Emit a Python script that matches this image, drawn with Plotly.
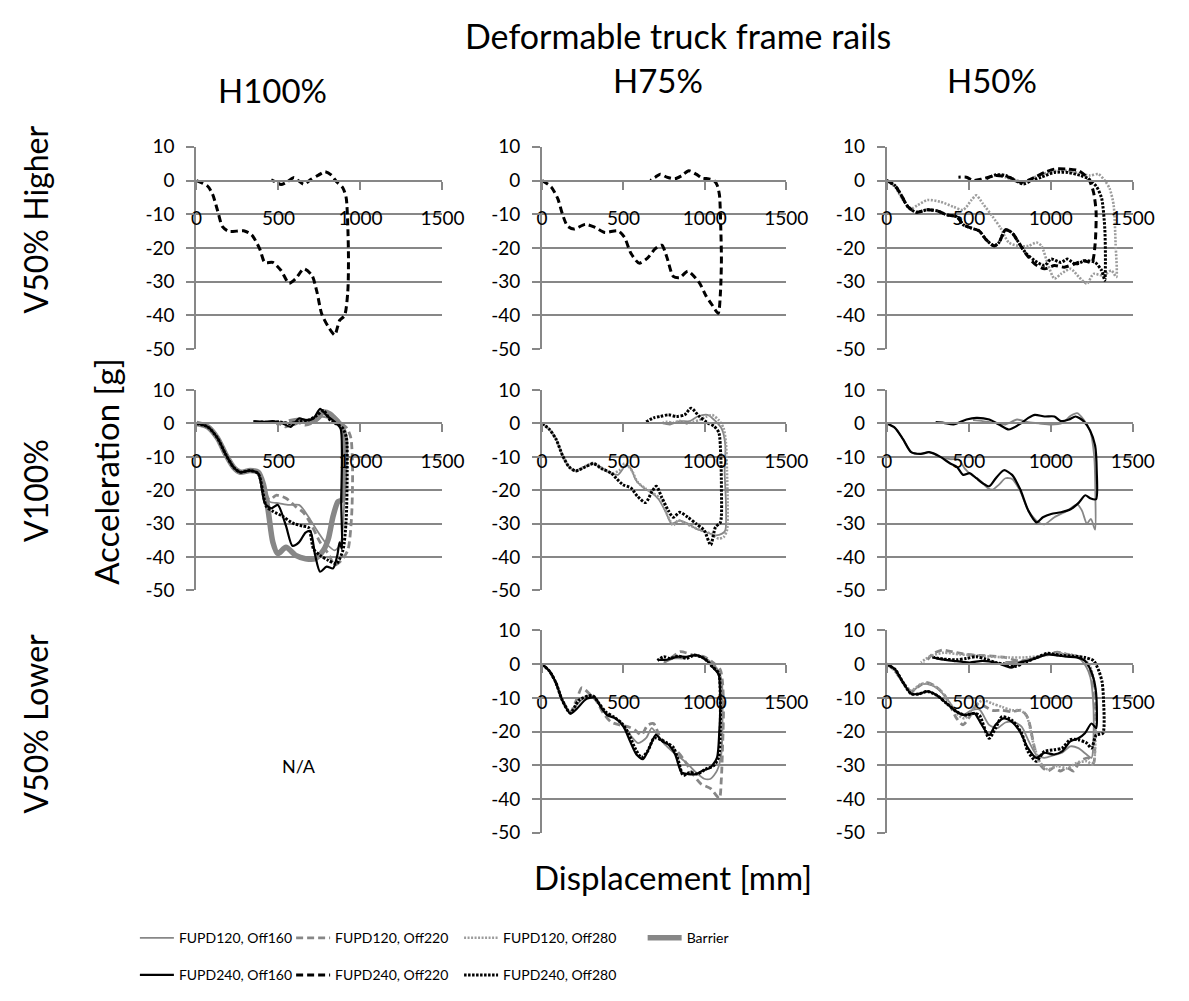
import plotly.graph_objects as go

W, H = 1189, 1001
FONT = "Lato"

# ---------------- data (displacement [mm], acceleration [g]) ----------------
# Row "V50% Higher"
hi_h100_b220_x = [0, 69, 99, 129, 159, 198, 288, 337, 387, 417, 466, 516, 565, 605, 655, 704, 734, 764, 804, 843, 873, 903, 923, 927, 923, 913, 893, 853, 823, 784, 744, 694, 655, 615, 595, 556, 516, 486, 456]
hi_h100_b220_y = [0, -1.7, -4.1, -8.9, -13.7, -15.1, -14.9, -16.1, -20.4, -24.3, -24.3, -26.7, -30.5, -29.1, -26.2, -28.1, -32.9, -39.6, -43.4, -45.8, -41.5, -40.1, -32.9, -23.3, -13.7, -5.1, -2.2, -0.3, 1.6, 2.6, 1.6, 0.2, -1.1, 0.2, 0.9, -0.3, -1.2, -0.5, 0.2]

hi_h75_b220_x = [0, 56, 96, 126, 156, 196, 266, 326, 386, 466, 506, 546, 596, 646, 696, 736, 766, 806, 846, 896, 966, 1006, 1046, 1082, 1096, 1102, 1098, 1090, 1076, 1056, 1026, 986, 946, 902, 856, 816, 766, 726, 696, 666]
hi_h75_b220_y = [0, -1.9, -5.3, -10.1, -13.5, -14.4, -13.0, -13.9, -15.4, -14.9, -16.8, -21.6, -24.5, -23.1, -20.2, -19.2, -22.6, -28.4, -28.8, -26.9, -30.3, -34.1, -37.0, -39.4, -33.2, -23.6, -13.9, -4.3, -1.4, 0, 0.5, 0.7, 1.9, 2.9, 1.4, 0.5, 1.0, 1.9, 1.0, 0]

hi_h50_g280_x = [0, 50, 99, 149, 188, 248, 327, 407, 466, 516, 546, 585, 645, 694, 744, 804, 863, 913, 943, 982, 1022, 1062, 1121, 1171, 1220, 1260, 1319, 1369, 1399, 1395, 1383, 1359, 1329, 1290, 1240, 1171, 1101, 1042, 982, 923, 863, 823, 774, 724, 665, 605]
hi_h50_g280_y = [0, -1.9, -5.8, -8.3, -7.3, -5.8, -6.3, -7.8, -8.7, -5.8, -4.4, -6.8, -10.7, -14.1, -18.4, -19.4, -19.4, -18.4, -19.4, -24.8, -29.1, -27.7, -26.2, -28.6, -30.6, -27.7, -28.2, -26.7, -28.6, -18.9, -7.3, -2.4, 0, 1.9, 1.5, 2.2, 2.9, 2.9, 2.4, 1.5, 0, -0.5, 0, 1.0, 1.5, 0.5]

hi_h50_b220_x = [0, 50, 89, 129, 179, 248, 308, 367, 427, 466, 516, 565, 605, 655, 684, 724, 764, 804, 843, 903, 962, 1022, 1082, 1141, 1200, 1250, 1270, 1276, 1260, 1230, 1171, 1101, 1022, 962, 903, 823, 744, 665, 585, 526, 486, 437]
hi_h50_b220_y = [0, -1.5, -4.4, -7.8, -9.4, -8.7, -9.0, -10.2, -10.7, -13.1, -14.1, -15.0, -17.5, -19.4, -18.4, -14.6, -15.5, -18.4, -21.4, -24.8, -26.2, -25.2, -25.7, -24.8, -23.8, -24.3, -18.9, -9.2, -3.4, 0.5, 2.9, 3.4, 3.4, 2.4, 1.0, -0.5, 1.0, 1.5, 0.5, 0, 1.0, 1.0]

hi_h50_b280_x = [0, 50, 89, 129, 179, 248, 308, 367, 427, 466, 516, 565, 605, 655, 684, 724, 764, 804, 853, 903, 962, 1002, 1062, 1101, 1151, 1210, 1270, 1310, 1329, 1333, 1329, 1310, 1280, 1230, 1181, 1101, 1022, 943, 883, 833, 784, 724, 665, 605]
hi_h50_b280_y = [0, -1.5, -4.4, -7.8, -9.4, -8.7, -9.0, -10.2, -10.7, -13.1, -14.1, -15.0, -17.5, -19.4, -18.4, -14.6, -15.5, -18.4, -21.8, -23.8, -25.2, -23.3, -24.3, -23.3, -24.8, -23.8, -24.3, -26.7, -29.6, -23.8, -14.1, -5.3, -1.9, 0.5, 1.5, 2.4, 2.4, 1.0, 0, -1.0, 0, 1.5, 1.7, 0.5]

# Row "V100%"
mid_h100_bar_x = [0, 69, 129, 179, 228, 268, 327, 377, 407, 437, 466, 496, 546, 605, 665, 724, 774, 804, 833, 863, 887, 903, 907, 887, 853, 813, 774, 734, 684, 625, 565]
mid_h100_bar_y = [0, -1.0, -4.4, -9.3, -13.2, -14.6, -14.1, -14.6, -18.0, -25.9, -35.6, -39.0, -37.1, -39.5, -40.5, -40.5, -38.0, -34.6, -27.8, -23.4, -22.9, -14.1, -4.4, -1.0, 1.0, 2.9, 3.4, 1.5, 0.5, 1.0, 0.5]

mid_h100_g160_x = [0, 69, 129, 179, 228, 268, 327, 377, 407, 446, 506, 565, 625, 655, 694, 744, 794, 843, 879, 899, 907, 899, 863, 813, 764, 714, 655, 595, 536, 486]
mid_h100_g160_y = [0, -1.0, -4.4, -9.3, -13.2, -14.6, -14.1, -14.6, -19.0, -23.4, -23.9, -24.4, -24.4, -25.9, -28.8, -32.7, -36.1, -38.0, -36.1, -25.9, -12.2, -2.4, 0, 1.5, 2.0, 0.5, 1.0, -0.5, 0.5, -0.3]

mid_h100_g220_x = [0, 69, 129, 179, 228, 268, 327, 377, 407, 446, 486, 546, 605, 655, 704, 754, 804, 843, 883, 923, 946, 952, 942, 919, 873, 833, 784, 724, 665, 605, 546, 506]
mid_h100_g220_y = [0, -1.0, -4.4, -9.3, -13.2, -14.6, -14.1, -14.6, -19.0, -22.9, -21.5, -22.4, -24.9, -26.8, -30.7, -35.6, -39.0, -42.4, -41.0, -38.0, -27.8, -14.1, -4.4, -1.5, 0.5, 2.4, 2.9, 0.5, -0.5, 0.5, -1.0, 0]

mid_h100_b160_x = [0, 69, 129, 179, 228, 268, 327, 377, 417, 456, 496, 546, 585, 625, 665, 694, 724, 754, 794, 833, 859, 873, 887, 883, 887, 879, 843, 794, 754, 714, 665, 625, 575, 526, 466, 407, 347]
mid_h100_b160_y = [0, -1.0, -4.4, -9.3, -13.2, -14.6, -14.1, -15.0, -23.9, -25.4, -24.4, -30.7, -36.6, -35.6, -32.7, -32.2, -39.5, -44.4, -42.9, -43.4, -39.5, -35.6, -37.6, -23.9, -9.3, -1.5, 0.5, 2.4, 4.4, 1.5, 1.0, 1.5, -1.0, 0, 0.7, 0.5, 0.7]

mid_h100_b280_x = [0, 69, 129, 179, 228, 268, 327, 377, 427, 466, 526, 585, 645, 684, 714, 754, 804, 853, 893, 913, 919, 915, 893, 863, 823, 774, 734, 684, 625, 565, 506, 446, 387]
mid_h100_b280_y = [0, -1.0, -4.4, -9.3, -13.2, -14.6, -14.1, -15.0, -24.9, -26.3, -27.8, -29.8, -30.7, -31.2, -37.6, -39.5, -41.0, -42.0, -38.0, -28.8, -14.1, -4.4, -1.5, -0.3, 0.5, 3.9, 2.4, 1.0, 0.5, 0, 0.5, 0.3, 0.5]

mid_h75_g160_x = [0, 46, 86, 126, 166, 206, 266, 316, 366, 426, 466, 516, 546, 576, 626, 676, 716, 756, 796, 846, 896, 946, 1006, 1066, 1106, 1126, 1130, 1122, 1126, 1106, 1066, 1016, 956, 906, 846, 786, 736]
mid_h75_g160_y = [0, -1.8, -4.7, -9.6, -13.0, -14.2, -13.0, -12.0, -13.5, -14.9, -15.4, -12.5, -13.5, -16.9, -19.3, -20.8, -22.7, -26.1, -30.0, -29.1, -30.0, -31.5, -32.5, -33.5, -33.0, -32.0, -24.2, -14.4, -6.6, -1.8, 0.7, 2.6, 2.1, 0.7, 0.7, -0.3, 0.2]

mid_h75_g280_x = [0, 46, 86, 126, 166, 206, 266, 316, 366, 426, 476, 506, 526, 556, 586, 636, 686, 726, 766, 806, 836, 876, 926, 976, 1036, 1086, 1116, 1136, 1140, 1136, 1130, 1116, 1086, 1046, 1006, 966, 926, 886, 846, 806, 766, 736]
mid_h75_g280_y = [0, -1.8, -4.7, -9.6, -13.0, -14.2, -12.8, -11.8, -13.2, -15.0, -14.0, -12.0, -12.5, -14.5, -17.5, -19.5, -21.0, -22.5, -27.0, -30.5, -29.0, -29.8, -31.0, -32.0, -33.0, -34.5, -34.0, -32.0, -24.0, -14.0, -6.0, -1.5, 1.0, 2.5, 2.0, 1.0, 0.5, 0.0, 0.8, 0.2, 0.5, 0.0]

mid_h75_b280_x = [0, 46, 86, 126, 166, 206, 266, 316, 366, 426, 446, 496, 546, 586, 636, 676, 702, 736, 776, 806, 846, 896, 946, 996, 1036, 1066, 1096, 1102, 1098, 1086, 1056, 1016, 966, 916, 876, 826, 776, 726, 686, 636]
mid_h75_b280_y = [0, -1.8, -4.7, -9.6, -13.0, -14.2, -13.0, -12.0, -13.5, -14.9, -15.9, -18.3, -19.3, -21.8, -23.7, -20.3, -18.8, -22.2, -26.1, -28.1, -26.6, -28.1, -30.0, -32.0, -36.4, -31.0, -29.6, -19.3, -9.6, -2.7, -0.8, 0.2, 2.1, 4.6, 2.6, 2.1, 2.6, 2.1, 1.7, 0.4]

mid_h50_g160_x = [0, 50, 99, 149, 208, 258, 327, 387, 437, 476, 516, 565, 615, 645, 684, 724, 764, 814, 863, 923, 962, 1022, 1101, 1161, 1190, 1220, 1244, 1270, 1272, 1264, 1240, 1200, 1161, 1121, 1071, 1002, 932, 863, 794, 724, 655, 585, 526]
mid_h50_g160_y = [0, -1.3, -4.7, -8.6, -9.1, -8.6, -10.0, -10.7, -10.7, -13.5, -15.4, -16.9, -19.3, -19.8, -18.3, -16.4, -16.6, -20.3, -26.1, -29.6, -30.2, -28.1, -26.1, -24.2, -26.1, -30.0, -28.6, -31.8, -22.2, -9.6, -2.2, 1.2, 3.1, 2.3, 0.2, -0.3, 0, 0.4, 1.2, -0.3, 0.2, 0.7, 1.0]

mid_h50_b160_x = [0, 50, 99, 149, 208, 258, 327, 387, 427, 466, 506, 546, 585, 625, 665, 714, 764, 814, 863, 913, 952, 1002, 1062, 1121, 1171, 1210, 1240, 1276, 1280, 1270, 1240, 1200, 1151, 1111, 1062, 1022, 962, 903, 863, 823, 744, 684, 625, 546, 486, 407, 347, 298]
mid_h50_b160_y = [0, -1.3, -4.7, -8.6, -9.1, -8.6, -10.0, -12.0, -13.0, -15.4, -14.9, -16.4, -17.9, -18.8, -16.4, -14.0, -15.4, -19.8, -26.1, -29.6, -28.1, -27.1, -26.6, -25.7, -23.7, -21.5, -22.4, -22.7, -14.4, -6.6, -2.2, 0.7, 2.1, 1.2, 0.7, 2.1, 2.1, 2.6, 1.7, 0.2, -1.8, -0.3, 1.2, 1.7, 1.2, -0.3, 0.2, 0.4]

# Row "V50% Lower"
lo_h75_g160_x = [0, 46, 85, 125, 174, 214, 273, 323, 362, 402, 451, 491, 541, 590, 640, 673, 709, 748, 798, 848, 897, 946, 996, 1036, 1075, 1101, 1109, 1105, 1085, 1045, 986, 927, 867, 808, 748]
lo_h75_g160_y = [0, -2.1, -5.5, -10.8, -14.2, -12.0, -9.5, -9.5, -12.5, -14.8, -16.0, -17.6, -21.0, -23.4, -21.9, -19.0, -21.0, -23.4, -25.8, -27.7, -29.7, -32.1, -34.0, -34.0, -31.6, -26.8, -15.2, -5.5, -2.1, 0.3, 2.2, 2.7, 1.7, 1.7, 0.3]

lo_h75_g220_x = [0, 46, 85, 125, 174, 214, 244, 283, 333, 372, 422, 481, 531, 570, 610, 649, 685, 719, 768, 828, 877, 927, 976, 1036, 1089, 1101, 1109, 1115, 1109, 1095, 1055, 996, 927, 848, 788, 748]
lo_h75_g220_y = [0, -2.1, -5.5, -10.8, -14.2, -10.3, -7.0, -8.4, -10.8, -14.2, -17.1, -18.1, -18.6, -19.5, -21.0, -18.1, -17.6, -21.0, -24.3, -25.8, -28.7, -32.6, -35.5, -36.9, -39.8, -34.5, -24.8, -13.2, -5.5, -1.6, 0.3, 2.2, 2.7, 3.7, 1.7, 0.8]

lo_h75_b160_x = [0, 46, 85, 125, 174, 214, 273, 323, 362, 402, 451, 501, 541, 580, 620, 659, 699, 739, 778, 818, 857, 897, 946, 986, 1036, 1075, 1089, 1095, 1085, 1055, 1006, 946, 887, 828, 768, 719]
lo_h75_b160_y = [0, -2.1, -5.5, -10.8, -14.7, -13.2, -10.3, -9.9, -12.8, -15.2, -16.1, -18.6, -22.9, -26.8, -28.2, -24.8, -21.0, -22.9, -23.9, -26.8, -32.1, -32.6, -32.6, -31.6, -30.6, -27.7, -20.0, -10.3, -3.1, -1.2, 1.3, 2.7, 2.2, 2.2, 1.3, 1.3]

lo_h75_b280_x = [0, 46, 85, 125, 174, 224, 283, 313, 352, 392, 442, 491, 531, 570, 610, 649, 689, 729, 768, 808, 838, 867, 907, 956, 1006, 1055, 1085, 1095, 1095, 1085, 1045, 996, 937, 887, 838, 788, 748, 709]
lo_h75_b280_y = [0, -2.1, -5.5, -10.8, -14.5, -10.8, -9.4, -9.4, -11.8, -14.2, -15.7, -17.6, -20.5, -24.8, -27.7, -25.8, -21.9, -22.4, -23.4, -24.8, -28.7, -33.0, -32.1, -32.6, -31.1, -30.1, -27.7, -20.0, -10.3, -2.6, -0.7, 1.7, 2.7, 1.7, 2.4, 1.7, 2.2, 1.1]

lo_h50_g160_x = [0, 50, 99, 149, 198, 248, 307, 366, 426, 465, 515, 564, 624, 673, 723, 772, 822, 861, 911, 960, 1020, 1069, 1119, 1168, 1218, 1248, 1261, 1257, 1241, 1218, 1178, 1119, 1040, 960, 881, 802, 723]
lo_h50_g160_y = [0, -1.5, -5.4, -8.3, -6.3, -5.9, -7.1, -10.2, -14.1, -15.1, -13.7, -13.4, -18.0, -19.0, -17.3, -17.1, -18.5, -22.4, -26.8, -27.8, -27.0, -26.3, -24.4, -24.9, -26.8, -27.8, -20.0, -10.2, -3.9, -1.0, 1.5, 2.6, 3.2, 2.6, 1.7, 0.7, 0.7]

lo_h50_g220_x = [0, 50, 99, 149, 188, 238, 287, 347, 386, 426, 465, 505, 545, 584, 644, 703, 762, 822, 861, 901, 941, 980, 1020, 1059, 1099, 1139, 1178, 1228, 1261, 1267, 1267, 1253, 1228, 1188, 1119, 1040, 960, 881, 802, 723, 644, 564, 485, 406, 337, 277, 228]
lo_h50_g220_y = [0, -2.0, -5.4, -8.1, -6.8, -5.4, -6.3, -8.8, -12.2, -16.1, -18.0, -15.6, -12.2, -12.2, -13.7, -13.7, -14.1, -13.7, -16.1, -24.9, -30.2, -31.7, -30.7, -31.7, -30.7, -31.7, -28.8, -27.8, -29.3, -20.0, -10.2, -4.4, -0.5, 2.0, 2.6, 3.6, 2.6, 1.5, 1.0, 2.0, 2.4, 2.6, 2.9, 3.6, 4.2, 2.9, 0]

lo_h50_g280_x = [0, 50, 99, 149, 208, 267, 327, 386, 436, 475, 525, 584, 644, 703, 762, 812, 851, 891, 931, 980, 1040, 1099, 1158, 1218, 1257, 1273, 1273, 1261, 1238, 1198, 1119, 1040, 941, 842, 743, 644, 545, 446, 347, 267, 208]
lo_h50_g280_y = [0, -2.0, -5.4, -7.8, -5.9, -5.9, -7.8, -11.7, -15.1, -16.1, -13.2, -10.7, -11.7, -12.7, -13.7, -13.7, -15.1, -22.9, -28.8, -31.2, -30.2, -30.9, -29.3, -28.8, -29.8, -20.0, -10.2, -4.4, -0.5, 1.7, 2.9, 3.2, 2.4, 2.0, 2.0, 2.2, 2.6, 2.9, 3.4, 2.4, 0.5]

lo_h50_b160_x = [0, 50, 99, 149, 198, 248, 307, 366, 426, 475, 535, 574, 624, 663, 713, 762, 812, 861, 911, 960, 1020, 1069, 1119, 1168, 1208, 1248, 1277, 1281, 1273, 1248, 1208, 1158, 1099, 1040, 980, 921, 861, 812, 762, 723, 663, 584, 505, 406, 327, 277]
lo_h50_b160_y = [0, -1.5, -5.4, -8.8, -8.8, -8.1, -9.3, -11.7, -14.1, -15.1, -14.6, -17.6, -21.0, -18.0, -16.1, -17.1, -20.0, -24.9, -27.8, -26.3, -26.8, -25.9, -22.9, -22.0, -20.5, -17.6, -19.0, -15.1, -7.3, -2.4, 1.0, 2.0, 2.2, 2.6, 2.9, 2.0, 1.0, 0.5, -1.0, -0.5, 0.5, 1.0, 0.5, 1.0, 1.5, 2.0]

lo_h50_b280_x = [0, 50, 99, 149, 198, 248, 307, 366, 426, 475, 535, 564, 624, 663, 703, 762, 822, 861, 911, 960, 1020, 1069, 1119, 1168, 1218, 1248, 1277, 1317, 1321, 1313, 1293, 1261, 1208, 1139, 1059, 980, 901, 842, 782, 723, 663, 604, 545, 485, 426, 347, 287]
lo_h50_b280_y = [0, -1.5, -5.4, -8.8, -8.8, -8.1, -9.3, -11.7, -14.1, -15.1, -14.6, -15.1, -22.0, -19.0, -15.6, -16.6, -20.5, -25.9, -28.8, -25.9, -25.4, -24.9, -22.4, -22.4, -23.4, -24.9, -21.0, -20.5, -10.2, -5.4, -2.0, 1.0, 2.0, 2.4, 2.6, 3.2, 1.7, 0.5, -0.7, 0, 0.5, 1.5, 2.2, 1.7, 1.3, 1.5, 2.0]

x_tick_vals = [0, 500, 1000, 1500]
y_tick_vals = [10, 0, -10, -20, -30, -40, -50]

col_titles = ["H100%", "H75%", "H50%"]
row_titles = ["V50% Higher", "V100%", "V50% Lower"]

# ---------------- styling ----------------
GRAY = "#878787"
LGRAY = "#9c9c9c"
STY = {
    "g160": dict(name="FUPD120, Off160", color=GRAY, width=1.8, dash="solid", legend="legend"),
    "g220": dict(name="FUPD120, Off220", color=GRAY, width=2.8, dash="7px,4px", legend="legend2"),
    "g280": dict(name="FUPD120, Off280", color=LGRAY, width=2.6, dash="2px,1.5px", legend="legend3"),
    "bar": dict(name="Barrier", color=GRAY, width=5.5, dash="solid", legend="legend4"),
    "b160": dict(name="FUPD240, Off160", color="black", width=2.2, dash="solid", legend="legend5"),
    "b220": dict(name="FUPD240, Off220", color="black", width=3, dash="7px,4px", legend="legend6"),
    "b280": dict(name="FUPD240, Off280", color="black", width=3, dash="2.5px,1.5px", legend="legend7"),
}

col_px = [(195, 447), (549, 799), (902, 1154)]
row_px = [(138, 345), (387, 592), (633, 840)]
panels = [(0, 0), (0, 1), (0, 2), (1, 0), (1, 1), (1, 2), (2, 1), (2, 2)]

panel_series = {
    1: [("b220", hi_h100_b220_x, hi_h100_b220_y)],
    2: [("b220", hi_h75_b220_x, hi_h75_b220_y)],
    3: [("g280", hi_h50_g280_x, hi_h50_g280_y), ("b220", hi_h50_b220_x, hi_h50_b220_y),
        ("b280", hi_h50_b280_x, hi_h50_b280_y)],
    4: [("bar", mid_h100_bar_x, mid_h100_bar_y), ("g160", mid_h100_g160_x, mid_h100_g160_y),
        ("g220", mid_h100_g220_x, mid_h100_g220_y), ("b160", mid_h100_b160_x, mid_h100_b160_y),
        ("b280", mid_h100_b280_x, mid_h100_b280_y)],
    5: [("g160", mid_h75_g160_x, mid_h75_g160_y), ("g280", mid_h75_g280_x, mid_h75_g280_y),
        ("b280", mid_h75_b280_x, mid_h75_b280_y)],
    6: [("g160", mid_h50_g160_x, mid_h50_g160_y), ("b160", mid_h50_b160_x, mid_h50_b160_y)],
    7: [("g160", lo_h75_g160_x, lo_h75_g160_y), ("g220", lo_h75_g220_x, lo_h75_g220_y),
        ("b160", lo_h75_b160_x, lo_h75_b160_y), ("b280", lo_h75_b280_x, lo_h75_b280_y)],
    8: [("g160", lo_h50_g160_x, lo_h50_g160_y), ("g220", lo_h50_g220_x, lo_h50_g220_y),
        ("g280", lo_h50_g280_x, lo_h50_g280_y), ("b160", lo_h50_b160_x, lo_h50_b160_y),
        ("b280", lo_h50_b280_x, lo_h50_b280_y)],
}

fig = go.Figure()
shown = set()
layout_axes = {}

for i, (r, c) in enumerate(panels):
    n = i + 1
    sfx = "" if n == 1 else str(n)
    x0, x1 = col_px[c]
    y0, y1 = row_px[r]
    zero_px = y0 + (10.0 / 60.0) * (y1 - y0)
    layout_axes["xaxis" + sfx] = dict(
        domain=[x0 / W, x1 / W], range=[0, 1500], anchor="free", position=1 - zero_px / H,
        showgrid=False, zeroline=False, showline=True, linecolor=GRAY, linewidth=2,
        ticks="outside", ticklen=8, tickwidth=2, tickcolor=GRAY,
        tickvals=x_tick_vals, ticktext=[str(v) for v in x_tick_vals],
        tickfont=dict(family=FONT, size=19, color="black"), ticklabelstandoff=13,
    )
    layout_axes["yaxis" + sfx] = dict(
        domain=[1 - y1 / H, 1 - y0 / H], range=[-50, 10], anchor="x" + sfx,
        tickvals=y_tick_vals, ticktext=[str(v) for v in y_tick_vals],
        showgrid=True, gridcolor=GRAY, gridwidth=2, zeroline=False,
        showline=True, linecolor=GRAY, linewidth=2,
        ticks="outside", ticklen=8, tickwidth=2, tickcolor=GRAY,
        tickfont=dict(family=FONT, size=19, color="black"), ticklabelstandoff=8,
    )
    for key, xs, ys in panel_series[n]:
        s = STY[key]
        fig.add_trace(go.Scatter(
            x=xs, y=ys, mode="lines", name=s["name"],
            line=dict(color=s["color"], width=s["width"], dash=s["dash"], shape="spline", smoothing=0.7),
            xaxis="x" + sfx, yaxis="y" + sfx,
            legend=s["legend"], legendgroup=key, showlegend=key not in shown,
            hoverinfo="skip",
        ))
        shown.add(key)

# legends: one per entry, laid out in two rows like the original
leg_pos = {
    "legend": (132, 948), "legend2": (292, 948), "legend3": (464, 948), "legend4": (652, 948),
    "legend5": (132, 986), "legend6": (292, 986), "legend7": (464, 986),
}
legends = {}
for k, (px, py) in leg_pos.items():
    legends[k] = dict(x=px / W, y=1 - py / H, xanchor="left", yanchor="middle",
                      orientation="h", bgcolor="rgba(0,0,0,0)", borderwidth=0,
                      font=dict(family=FONT, size=14, color="black"), itemwidth=34)

ann = []
def add_ann(text, xpx, ypx, size, angle=0):
    ann.append(dict(text=text, x=xpx / W, y=1 - ypx / H, xref="paper", yref="paper",
                    showarrow=False, textangle=angle, xanchor="center", yanchor="middle",
                    font=dict(family=FONT, size=size, color="black")))

add_ann("Deformable truck frame rails", 688, 24, 34)
add_ann(col_titles[0], 273, 80, 33)
add_ann(col_titles[1], 668, 70, 33)
add_ann(col_titles[2], 1010, 70, 33)
add_ann(row_titles[0], 30, 212, 32, -90)
add_ann(row_titles[1], 30, 490, 32, -90)
add_ann("Acceleration [g]", 103, 470, 33, -90)
add_ann(row_titles[2], 30, 728, 32, -90)
add_ann("N/A", 300, 772, 18)
add_ann("Displacement [mm]", 683, 885, 33)

fig.update_layout(
    width=W, height=H, margin=dict(l=0, r=0, t=0, b=0),
    paper_bgcolor="white", plot_bgcolor="white",
    font=dict(family=FONT, color="black"),
    annotations=ann, **layout_axes, **legends,
)

fig.write_html("out.html", config={"displayModeBar": False},
               post_script="document.body.style.margin='0';")
